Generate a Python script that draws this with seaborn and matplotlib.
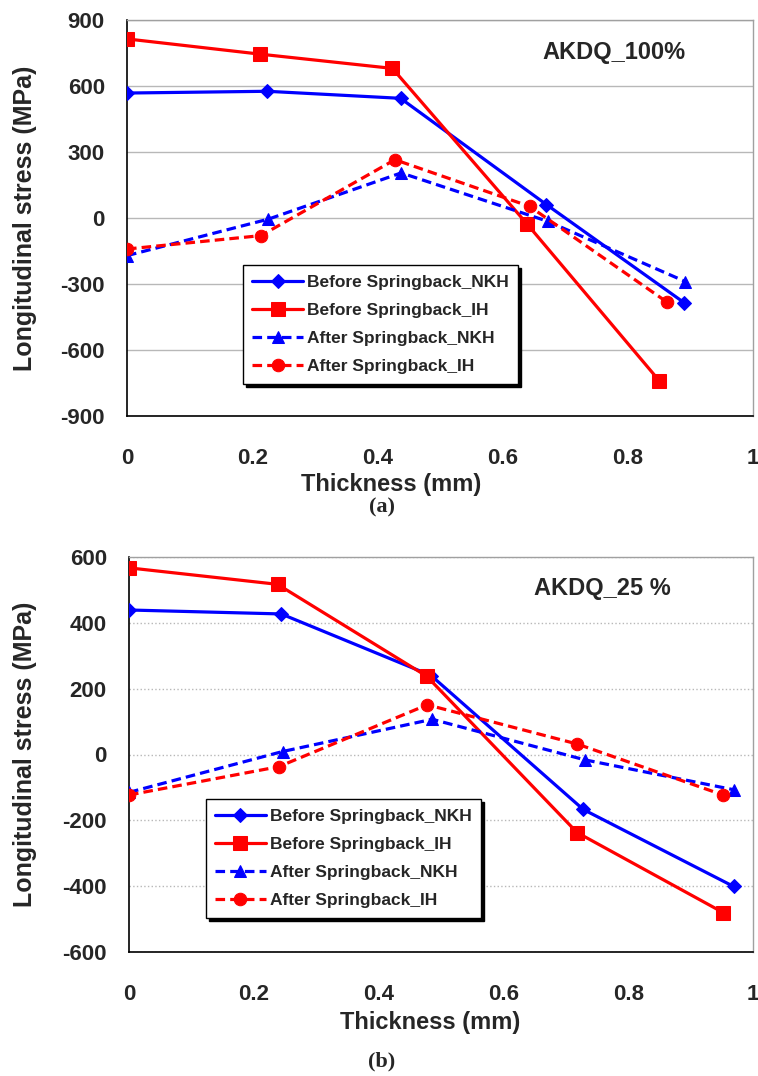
import numpy as np
import pandas as pd
import matplotlib
matplotlib.use("Agg")
import matplotlib.pyplot as plt
import seaborn as sns

# ---------------- data ----------------
series_names = ["Before Springback_NKH", "Before Springback_IH",
                "After Springback_NKH", "After Springback_IH"]

# Panel (a) AKDQ_100%
a_x_before_nkh = [0.0, 0.224, 0.437, 0.670, 0.890]
a_y_before_nkh = [568, 576, 544, 61, -385]
a_x_before_ih = [0.0, 0.212, 0.424, 0.639, 0.850]
a_y_before_ih = [814, 745, 680, -27, -739]
a_x_after_nkh = [0.0, 0.226, 0.438, 0.672, 0.892]
a_y_after_nkh = [-171, -5, 205, -15, -289]
a_x_after_ih = [0.0, 0.214, 0.428, 0.643, 0.863]
a_y_after_ih = [-141, -80, 265, 53, -383]

# Panel (b) AKDQ_25 %
b_x_before_nkh = [0.0, 0.244, 0.484, 0.728, 0.969]
b_y_before_nkh = [439, 427, 240, -167, -401]
b_x_before_ih = [0.0, 0.238, 0.477, 0.718, 0.952]
b_y_before_ih = [567, 517, 238, -237, -480]
b_x_after_nkh = [0.0, 0.246, 0.486, 0.730, 0.969]
b_y_after_nkh = [-115, 9, 107, -16, -107]
b_x_after_ih = [0.0, 0.240, 0.478, 0.718, 0.952]
b_y_after_ih = [-123, -37, 151, 32, -123]

x_ticks = [0, 0.2, 0.4, 0.6, 0.8, 1]
x_tick_labels = ["0", "0.2", "0.4", "0.6", "0.8", "1"]
a_y_ticks = [-900, -600, -300, 0, 300, 600, 900]
b_y_ticks = [-600, -400, -200, 0, 200, 400, 600]

# ---------------- style ----------------
sns.set_style("white")
plt.rcParams["font.family"] = ["Liberation Sans", "DejaVu Sans"]
plt.rcParams["axes.unicode_minus"] = False

SANS = ["Liberation Sans", "DejaVu Sans"]
BLUE = "#0000FF"
RED = "#FF0000"

styles = {
    "Before Springback_NKH": dict(color=BLUE, marker="D", ms=7, dashed=False),
    "Before Springback_IH": dict(color=RED, marker="s", ms=9.5, dashed=False),
    "After Springback_NKH": dict(color=BLUE, marker="^", ms=9, dashed=True),
    "After Springback_IH": dict(color=RED, marker="o", ms=9, dashed=True),
}

W, H = 758, 1076
fig = plt.figure(figsize=(W / 100, H / 100), dpi=100)


def frac_axes(x0, y0, x1, y1):
    return fig.add_axes([x0 / W, 1 - y1 / H, (x1 - x0) / W, (y1 - y0) / H])


def draw_panel(ax, xs, ys, yticks, grid_ls, note, note_xy, leg_anchor):
    for name, x, y in zip(series_names, xs, ys):
        st = styles[name]
        df = pd.DataFrame({"Thickness": x, "Stress": y})
        sns.lineplot(data=df, x="Thickness", y="Stress", ax=ax, sort=False,
                     color=st["color"], marker=st["marker"], markersize=st["ms"],
                     markeredgecolor=st["color"], linewidth=2.3, label=name,
                     linestyle=(0, (3, 1.6)) if st["dashed"] else "-",
                     errorbar=None, zorder=3)
    ax.set_xlim(0, 1)
    ax.set_ylim(yticks[0], yticks[-1])
    ax.set_xticks(x_ticks)
    ax.set_xticklabels(x_tick_labels)
    ax.set_yticks(yticks)
    ax.set_yticklabels([str(v) for v in yticks])
    for lab in ax.get_xticklabels() + ax.get_yticklabels():
        lab.set_family(SANS)
        lab.set_fontweight("bold")
        lab.set_fontsize(16)
    ax.tick_params(axis="x", direction="out", length=6, width=1, color="black", pad=17)
    ax.tick_params(axis="y", direction="out", length=6, width=1, color="black", pad=10)
    ax.grid(axis="y", color="#B8B8B8", linestyle=grid_ls, linewidth=1, zorder=0)
    ax.grid(axis="x", visible=False)
    for s in ["left", "bottom"]:
        ax.spines[s].set_color("black")
        ax.spines[s].set_linewidth(1.2)
    for s in ["top", "right"]:
        ax.spines[s].set_color("#A0A0A0")
        ax.spines[s].set_linewidth(1)
    ax.set_ylabel("Longitudinal stress (MPa)", fontsize=18, fontweight="bold",
                  family=SANS)
    ax.set_xlabel("")
    ax.text(note_xy[0], note_xy[1], note, transform=ax.transData,
            ha="center", va="center", fontsize=17, fontweight="bold", family=SANS)
    leg = ax.legend(loc="upper left", bbox_to_anchor=leg_anchor, frameon=True,
                    fancybox=False, shadow={"color": "black", "alpha": 1},
                    framealpha=1, edgecolor="black",
                    prop={"weight": "bold", "family": SANS, "size": 12.5},
                    handlelength=2.9, handletextpad=0.25, labelspacing=0.75,
                    borderpad=0.55, borderaxespad=0)
    leg.get_frame().set_linewidth(1)
    return leg


# panel (a)
ax1 = frac_axes(127, 20, 753, 416)
draw_panel(ax1,
           [a_x_before_nkh, a_x_before_ih, a_x_after_nkh, a_x_after_ih],
           [a_y_before_nkh, a_y_before_ih, a_y_after_nkh, a_y_after_ih],
           a_y_ticks, "-", "AKDQ_100%", (0.778, 750), (0.185, 0.381))
ax1.yaxis.set_label_coords(-(127 - 37) / 626, 0.5)

# panel (b)
ax2 = frac_axes(129, 557, 753, 952)
draw_panel(ax2,
           [b_x_before_nkh, b_x_before_ih, b_x_after_nkh, b_x_after_ih],
           [b_y_before_nkh, b_y_before_ih, b_y_after_nkh, b_y_after_ih],
           b_y_ticks, ":", "AKDQ_25 %", (0.758, 504), (0.123, 0.387))
ax2.yaxis.set_label_coords(-(129 - 37) / 624, 0.5)

# x labels and panel captions (figure pixel positions)
fig.text(391 / W, 1 - 484 / H, "Thickness (mm)", ha="center", va="center",
         fontsize=17, fontweight="bold", family=SANS)
fig.text(430 / W, 1 - 1023 / H, "Thickness (mm)", ha="center", va="center",
         fontsize=17, fontweight="bold", family=SANS)
fig.text(382 / W, 1 - 507 / H, "(a)", ha="center", va="center",
         fontsize=16, fontweight="bold", family=["Liberation Serif", "DejaVu Serif"])
fig.text(382 / W, 1 - 1061 / H, "(b)", ha="center", va="center",
         fontsize=16, fontweight="bold", family=["Liberation Serif", "DejaVu Serif"])

fig.savefig("out.png", dpi=100)
